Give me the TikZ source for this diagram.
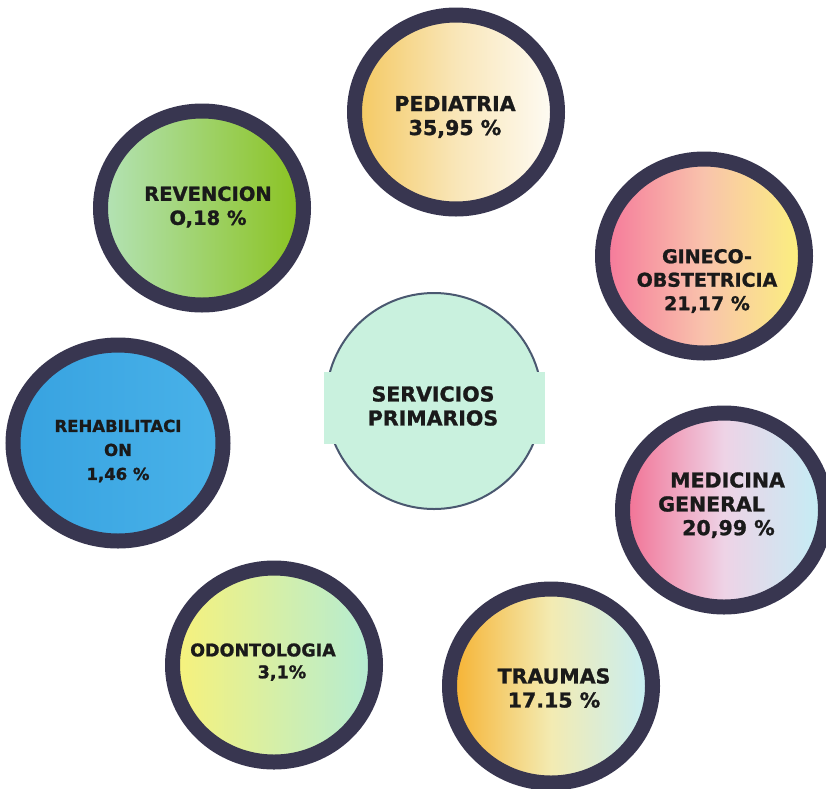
\documentclass[tikz,border=0pt]{standalone}
\usepackage{fontspec}
\setmainfont{DejaVu Sans}[BoldFeatures={FakeBold=1.2}]
\usetikzlibrary{shapes.geometric}
\definecolor{rim}{HTML}{383650}
\definecolor{thinrim}{HTML}{4A5870}
\definecolor{ink}{HTML}{1A1A1A}
\definecolor{mint}{HTML}{C9F1DE}
\definecolor{pedL}{HTML}{F4C860}
\definecolor{pedM}{HTML}{F9E6B8}
\definecolor{pedR}{HTML}{FEFCF6}
\definecolor{revL}{HTML}{B4E3B8}
\definecolor{revR}{HTML}{8AC21E}
\definecolor{ginL}{HTML}{F5779A}
\definecolor{ginM}{HTML}{F9C3AC}
\definecolor{ginR}{HTML}{FBF27C}
\definecolor{rehL}{HTML}{37A2E0}
\definecolor{rehR}{HTML}{49B2E9}
\definecolor{medL}{HTML}{F26F92}
\definecolor{medM}{HTML}{EED3E6}
\definecolor{medR}{HTML}{C2EEF6}
\definecolor{odoL}{HTML}{F8F27A}
\definecolor{odoR}{HTML}{B3ECD5}
\definecolor{traL}{HTML}{F6B12F}
\definecolor{traM}{HTML}{F3EBB2}
\definecolor{traR}{HTML}{C5EEF7}
\tikzset{
  bubble/.style={ellipse, draw=rim, line width=15pt, inner sep=0pt,
    minimum width=203pt, minimum height=194pt},
  lbl/.style={text=ink, font=\bfseries\fontsize{20.5}{24}\selectfont, align=center, inner sep=0pt},
  lbls/.style={text=ink, font=\bfseries\fontsize{17.5}{24}\selectfont, align=center, inner sep=0pt},
}
\begin{document}
\begin{tikzpicture}[x=1pt,y=-1pt]
\useasboundingbox (0,0) rectangle (826,788);
\fill[white] (0,0) rectangle (826,788);
% center
\node[circle, draw=thinrim, line width=2pt, fill=mint, minimum size=216pt, inner sep=0pt] (serv) at (434,401) {};
\fill[mint] (324,372) rectangle (545,444);
\node[lbl] (servt) at (433,406) {SERVICIOS\\PRIMARIOS};
% outer bubbles
\node[bubble, left color=pedL, right color=pedR, middle color=pedM] (ped) at (456,112) {};
\node[lbl] (pedt) at (455,117) {PEDIATRIA\\35,95 \%};

\node[bubble, left color=revL, right color=revR] (rev) at (202,208) {};
\node[lbl, font=\bfseries\fontsize{19.5}{24}\selectfont] (revt) at (208,207) {REVENCION\\O,18 \%};

\node[bubble, left color=ginL, right color=ginR, middle color=ginM] (gin) at (704,256) {};
\node[lbl, font=\bfseries\fontsize{19}{23.5}\selectfont] (gint) at (707,281) {GINECO-\\OBSTETRICIA\\21,17 \%};

\node[bubble, left color=rehL, right color=rehR, minimum width=210pt, minimum height=196pt] (reh) at (118,443) {};
\node[lbls, font=\bfseries\fontsize{16.5}{24}\selectfont] (reht) at (118,451) {REHABILITACI\\ON\\1,46 \%};

\node[bubble, left color=medL, right color=medR, middle color=medM] (med) at (724,510) {};
\node[lbl, anchor=west] (medt1) at (670,480) {MEDICINA};
\node[lbl, anchor=west] (medt2) at (658,504) {GENERAL};
\node[lbl, anchor=west] (medt3) at (682,529) {20,99 \%};

\node[bubble, left color=odoL, right color=odoR] (odo) at (274,665) {};
\node[lbls] (odot1) at (263,650) {ODONTOLOGIA};
\node[lbls] (odot2) at (282,673) {3,1\%};

\node[bubble, left color=traL, right color=traR, middle color=traM] (tra) at (551,686) {};
\node[lbl] (trat) at (554,688) {TRAUMAS\\17.15 \%};
\end{tikzpicture}
\end{document}
